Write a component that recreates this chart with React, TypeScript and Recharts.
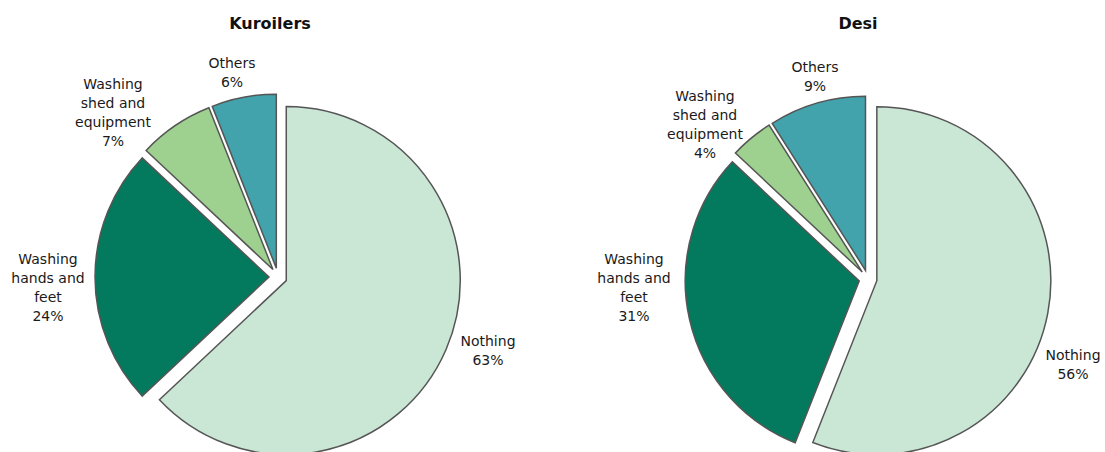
import { PieChart, Pie, Cell, Sector } from 'recharts';

const categories = ['Nothing', 'Washing\nhands and\nfeet', 'Washing\nshed and\nequipment', 'Others'];
const kuroilersValues = [63, 24, 7, 6];
const desiValues = [56, 31, 4, 9];
const titles = ['Kuroilers', 'Desi'];

const COLORS = ['#cae7d6', '#037a5d', '#9ed18f', '#42a3ad'];
const FONT = '"DejaVu Sans", Verdana, sans-serif';
const EXPLODE = 9;
const RADIUS = 174;

// label block centres, relative to pie centre (layout only)
const LABEL_OFFSETS = [
  [[210, 73], [-230, 10], [-165, -165], [-46, -205]],
  [[205, 85], [-234, 8], [-163, -155], [-53, -203]],
];

const PIES = [
  { cx: 278, cy: 277, titleX: 270 },
  { cx: 868, cy: 279, titleX: 858 },
];

const toData = (values: number[]) =>
  categories.map((name, i) => ({ name, value: values[i] }));

// every slice pulled out along its own mid angle
function ExplodedSector(props: any) {
  const { cx, cy, midAngle, innerRadius, outerRadius, startAngle, endAngle, fill } = props;
  const rad = (-midAngle * Math.PI) / 180;
  return (
    <Sector
      cx={cx + EXPLODE * Math.cos(rad)}
      cy={cy + EXPLODE * Math.sin(rad)}
      innerRadius={innerRadius}
      outerRadius={outerRadius}
      startAngle={startAngle}
      endAngle={endAngle}
      fill={fill}
      stroke="#555"
      strokeWidth={1.5}
    />
  );
}

function makeLabel(pieIdx: number) {
  return (props: any) => {
    const { cx, cy, index, name, value } = props;
    const [ox, oy] = LABEL_OFFSETS[pieIdx][index];
    const lines = [...String(name).split('\n'), `${value}%`];
    const lh = 19;
    const top = cy + oy - ((lines.length - 1) * lh) / 2;
    return (
      <text
        key={`lbl-${pieIdx}-${index}`}
        x={cx + ox}
        textAnchor="middle"
        fontFamily={FONT}
        fontSize={14}
        fill="#1a1a1a"
      >
        {lines.map((l, i) => (
          <tspan key={i} x={cx + ox} y={top + i * lh} dominantBaseline="central">
            {l}
          </tspan>
        ))}
      </text>
    );
  };
}

export default function App() {
  const datasets = [toData(kuroilersValues), toData(desiValues)];
  return (
    <div style={{ position: 'absolute', left: 0, top: 0, width: 1105, height: 452, background: '#fff', overflow: 'hidden' }}>
      {PIES.map((p, i) => (
        <div
          key={titles[i]}
          style={{
            position: 'absolute', left: p.titleX - 100, width: 200, top: 14,
            textAlign: 'center', fontFamily: FONT, fontWeight: 'bold', fontSize: 16, color: '#111',
          }}
        >
          {titles[i]}
        </div>
      ))}
      <PieChart width={1105} height={452} margin={{ top: 0, right: 0, bottom: 0, left: 0 }}>
        {PIES.map((p, i) => (
          <Pie
            key={titles[i]}
            data={datasets[i]}
            dataKey="value"
            nameKey="name"
            cx={p.cx}
            cy={p.cy}
            outerRadius={RADIUS}
            startAngle={90}
            endAngle={-270}
            stroke="#555"
            strokeWidth={1.5}
            shape={ExplodedSector}
            label={makeLabel(i)}
            labelLine={false}
            isAnimationActive={false}
          >
            {datasets[i].map((d, j) => (
              <Cell key={d.name} fill={COLORS[j]} />
            ))}
          </Pie>
        ))}
      </PieChart>
    </div>
  );
}
